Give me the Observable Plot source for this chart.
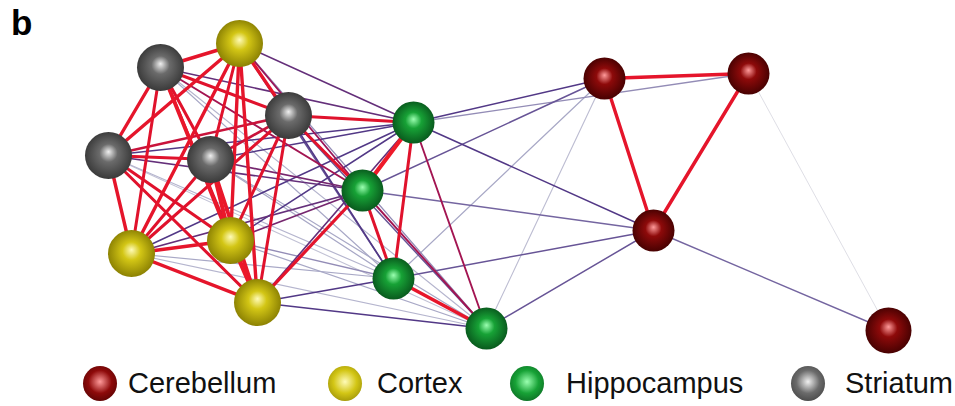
<!DOCTYPE html>
<html><head><meta charset="utf-8">
<script src="https://cdn.jsdelivr.net/npm/d3@7"></script>
<script src="https://cdn.jsdelivr.net/npm/@observablehq/plot@0.6"></script>
<style>
body{margin:0;background:#fff;font-family:"Liberation Sans",Arial,sans-serif;}
#wrap{position:relative;width:955px;height:406px;overflow:hidden;}
#panel{position:absolute;left:11px;top:3px;font-weight:bold;font-size:35px;line-height:40px;color:#000;}
#chart{position:absolute;left:0;top:0;}
#legend{position:absolute;left:0;top:360px;width:955px;height:46px;}
.sw{position:absolute;top:6px;width:34px;height:35px;border-radius:50%;}
.lt{position:absolute;top:0;height:46px;line-height:46px;font-size:29px;color:#111;white-space:nowrap;}
</style>
</head><body>
<div id="wrap"><div id="chart"></div><div id="panel">b</div><div id="legend"></div></div>
<script>
// ---- data ----
const groups = ["Cerebellum", "Cortex", "Hippocampus", "Striatum"];
const groupBase = ["#8e0a0a", "#d3c615", "#17a236", "#6b6b6b"];
const groupLight = ["#ff9a9a", "#fffbb8", "#9affb0", "#f0f0f0"];
const groupDark = ["#3e0000", "#827800", "#07501a", "#333333"];

const nodeIds   = ["S1","S2","S3","S4","C1","C2","C3","C4","H1","H2","H3","H4","R1","R2","R3","R4"];
const nodeGroup = ["Striatum","Striatum","Striatum","Striatum","Cortex","Cortex","Cortex","Cortex",
                   "Hippocampus","Hippocampus","Hippocampus","Hippocampus","Cerebellum","Cerebellum","Cerebellum","Cerebellum"];
const nodeX = [160, 288, 108, 210, 239, 131, 230, 257, 413, 362, 393, 486, 604, 748, 653, 888];
const nodeY = [ 67, 115, 155, 159,  43, 253, 240, 302, 122, 190, 278, 328,  78,  73, 230, 330];

// edges: [source, target, weight]
const edges = [
  // striatum / cortex cluster
  ["S1","S2",0.85],["S1","S3",0.9],["S1","S4",0.85],["S1","C1",0.9],["S1","C2",0.85],["S1","C3",0.95],["S1","C4",0.85],
  ["S2","S3",0.8],["S2","S4",0.8],["S2","C1",0.9],["S2","C2",0.85],["S2","C3",0.85],["S2","C4",0.85],
  ["S3","S4",0.85],["S3","C1",0.9],["S3","C2",0.9],["S3","C3",0.85],["S3","C4",0.85],
  ["S4","C1",0.85],["S4","C2",0.85],["S4","C3",0.97],["S4","C4",0.95],
  ["C1","C2",0.9],["C1","C3",0.9],["C1","C4",0.9],
  ["C2","C3",0.9],["C2","C4",0.9],["C3","C4",0.97],
  // cluster to hippocampus
  ["S1","H1",0.55],["S1","H2",0.72],["S1","H3",0.3],["S1","H4",0.25],
  ["S2","H1",0.85],["S2","H2",0.85],["S2","H3",0.5],["S2","H4",0.45],
  ["S3","H1",0.5],["S3","H2",0.55],["S3","H3",0.25],["S3","H4",0.2],
  ["S4","H1",0.5],["S4","H2",0.6],["S4","H3",0.3],["S4","H4",0.3],
  ["C1","H1",0.55],["C1","H2",0.7],["C1","H3",0.45],["C1","H4",0.35],
  ["C2","H1",0.5],["C2","H2",0.55],["C2","H3",0.3],["C2","H4",0.25],
  ["C3","H1",0.5],["C3","H2",0.6],["C3","H3",0.35],["C3","H4",0.3],
  ["C4","H1",0.55],["C4","H2",0.88],["C4","H3",0.5],["C4","H4",0.5],
  // hippocampus internal
  ["H1","H2",1.0],["H1","H3",0.85],["H1","H4",0.72],["H2","H3",0.85],["H2","H4",0.72],["H3","H4",0.92],
  // hippocampus to cerebellum
  ["H1","R1",0.5],["H1","R2",0.35],["H1","R3",0.5],["H2","R1",0.45],["H2","R3",0.42],
  ["H3","R1",0.3],["H3","R3",0.45],["H4","R1",0.22],["H4","R3",0.45],
  // cerebellum internal
  ["R1","R2",0.9],["R1","R3",0.9],["R2","R3",0.9],["R2","R4",0.1],["R3","R4",0.42]
];

// ---- build tables ----
const nodes = nodeIds.map((id, i) => ({id, group: nodeGroup[i], x: nodeX[i], y: nodeY[i]}));
const byId = new Map(nodes.map(n => [n.id, n]));
const links = edges.map(([s, t, w]) => ({x1: byId.get(s).x, y1: byId.get(s).y, x2: byId.get(t).x, y2: byId.get(t).y, w}))
  .sort((a, b) => a.w - b.w);

// sphere size by group (style)
const radiusOf = g => (g === "Cortex" || g === "Striatum") ? 23.5 : 21;

const plot = Plot.plot({
  width: 955, height: 360, margin: 0,
  x: {domain: [0, 955], range: [0, 955], axis: null},
  y: {domain: [0, 360], range: [0, 360], axis: null},
  r: {type: "identity"},
  color: {type: "linear", domain: [0.1, 0.3, 0.5, 0.7, 0.85, 1.0],
          range: ["#dcdce4", "#a8a8c6", "#523886", "#9a1558", "#e0122c", "#ee1a2a"], interpolate: "rgb"},
  marks: [
    Plot.link(links, {x1: "x1", y1: "y1", x2: "x2", y2: "y2", stroke: "w",
      strokeWidth: d => d.w >= 0.8 ? 2.6 + (d.w - 0.8) * 8 : 0.8 + d.w * 1.5, strokeLinecap: "round"}),
    ...groups.map(g => Plot.dot(nodes.filter(n => n.group === g),
      {x: "x", y: "y", r: d => d.id === "R4" ? 23 : radiusOf(d.group), fill: `url(#grad-${g})`, stroke: "none"}))
  ]
});

const defs = d3.select(plot).insert("defs", ":first-child");
groups.forEach((g, i) => {
  const rg = defs.append("radialGradient").attr("id", `grad-${g}`)
    .attr("cx", "0.5").attr("cy", "0.5").attr("r", "0.55").attr("fx", "0.5").attr("fy", "0.42");
  rg.append("stop").attr("offset", "0%").attr("stop-color", groupLight[i]);
  rg.append("stop").attr("offset", "35%").attr("stop-color", groupBase[i]);
  rg.append("stop").attr("offset", "100%").attr("stop-color", groupDark[i]);
});
document.getElementById("chart").appendChild(plot);

// legend
const legendCx = [100, 345, 527, 808];
const legendTx = [128, 377, 566, 845];
const lg = document.getElementById("legend");
groups.forEach((g, i) => {
  const s = document.createElement("div");
  s.className = "sw";
  s.style.left = (legendCx[i] - 17) + "px";
  s.style.background = `radial-gradient(circle at 50% 45%, ${groupLight[i]} 0%, ${groupBase[i]} 45%, ${groupDark[i]} 100%)`;
  lg.appendChild(s);
  const t = document.createElement("div");
  t.className = "lt";
  t.style.left = legendTx[i] + "px";
  t.textContent = g;
  lg.appendChild(t);
});
</script>
</body></html>
